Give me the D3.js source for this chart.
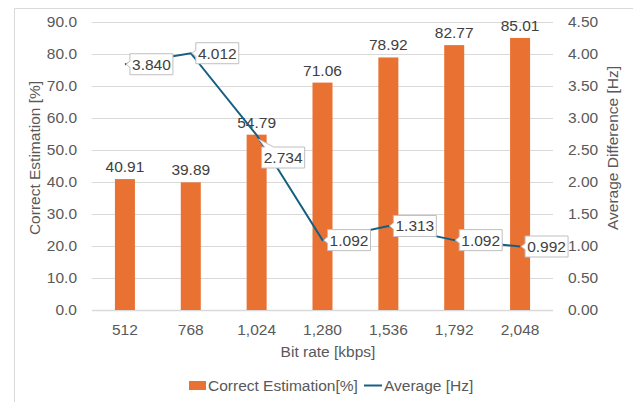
<!DOCTYPE html>
<html>
<head>
<meta charset="utf-8">
<script src="https://cdn.jsdelivr.net/npm/d3@7"></script>
<style>
  html, body { margin: 0; padding: 0; background: #fff; }
  svg { display: block; font-family: "Liberation Sans", Arial, Helvetica, sans-serif; }
</style>
</head>
<body>
<svg id="chart" width="633" height="402"></svg>
<script>
// Bit rates on the x axis
const bitRates = ["512", "768", "1,024", "1,280", "1,536", "1,792", "2,048"];
// Correct estimation rate per bit rate (left axis, bars)
const correctEstimation = [40.91, 39.89, 54.79, 71.06, 78.92, 82.77, 85.01];
// Average frequency difference per bit rate (right axis, line)
const averageDiff = [3.840, 4.012, 2.734, 1.092, 1.313, 1.092, 0.992];
// Tick values for both axes
const leftTicks = [0, 10, 20, 30, 40, 50, 60, 70, 80, 90];
const rightTicks = [0, 0.5, 1, 1.5, 2, 2.5, 3, 3.5, 4, 4.5];
// Where each line label sits relative to its point
const labelPlacement = ["right", "right", "below", "right", "right", "right", "right"];

const svg = d3.select("#chart");
const W = 633, H = 402;
const plot = { left: 92, right: 553, top: 22, bottom: 310 };

const barColor = "#E97132";
const lineColor = "#156082";
const textColor = "#595959";
const gridColor = "#D9D9D9";
const fontSize = 15.5;

// Chart frame
svg.append("path")
  .attr("d", `M14.5,${H} V8.5 H${W}`)
  .attr("fill", "none")
  .attr("stroke", "#D9D9D9")
  .attr("stroke-width", 1);

const x = d3.scaleBand().domain(bitRates).range([plot.left, plot.right]);
const yL = d3.scaleLinear().domain([0, 90]).range([plot.bottom, plot.top]);
const yR = d3.scaleLinear().domain([0, 4.5]).range([plot.bottom, plot.top]);

// Gridlines
svg.append("g").selectAll("line").data(leftTicks).join("line")
  .attr("x1", plot.left).attr("x2", plot.right)
  .attr("y1", d => Math.round(yL(d)) + 0.5).attr("y2", d => Math.round(yL(d)) + 0.5)
  .attr("stroke", gridColor).attr("stroke-width", d => d === 0 ? 1.5 : 1);

// Left axis
const leftAxis = svg.append("g")
  .attr("transform", `translate(${plot.left - 15},0)`)
  .call(d3.axisLeft(yL).tickValues(leftTicks).tickFormat(d3.format(".1f")).tickSize(0).tickPadding(0));
leftAxis.select(".domain").remove();
leftAxis.selectAll("text").attr("font-size", fontSize).attr("fill", textColor).attr("font-family", null);

// Right axis
const rightAxis = svg.append("g")
  .attr("transform", `translate(${plot.right + 15},0)`)
  .call(d3.axisRight(yR).tickValues(rightTicks).tickFormat(d3.format(".2f")).tickSize(0).tickPadding(0));
rightAxis.select(".domain").remove();
rightAxis.selectAll("text").attr("font-size", fontSize).attr("fill", textColor).attr("font-family", null);

// Bottom axis
const bottomAxis = svg.append("g")
  .attr("transform", `translate(0,${plot.bottom})`)
  .call(d3.axisBottom(x).tickSize(0).tickPadding(14));
bottomAxis.select(".domain").remove();
bottomAxis.selectAll("text").attr("font-size", fontSize).attr("fill", textColor).attr("font-family", null);

// Bars
const barW = 20;
svg.append("g").selectAll("rect").data(correctEstimation).join("rect")
  .attr("x", (d, i) => x(bitRates[i]) + x.bandwidth() / 2 - barW / 2)
  .attr("y", d => yL(d))
  .attr("width", barW)
  .attr("height", d => yL(0) - yL(d))
  .attr("fill", barColor);

// Bar value labels
svg.append("g").selectAll("text").data(correctEstimation).join("text")
  .attr("x", (d, i) => x(bitRates[i]) + x.bandwidth() / 2)
  .attr("y", d => yL(d) - 7)
  .attr("text-anchor", "middle")
  .attr("font-size", fontSize)
  .attr("fill", "#404040")
  .text(d => d3.format(".2f")(d));

// Line
const pts = averageDiff.map((d, i) => [x(bitRates[i]) + x.bandwidth() / 2, yR(d)]);
svg.append("path")
  .attr("d", d3.line()(pts))
  .attr("fill", "none")
  .attr("stroke", lineColor)
  .attr("stroke-width", 2);

// Line value labels in callout boxes
const boxW = 43, boxH = 21;
const labels = svg.append("g");
averageDiff.forEach((d, i) => {
  const [px, py] = pts[i];
  let bx, by, path;
  if (labelPlacement[i] === "below") {
    bx = px + 5; by = py + 12;
    path = `M${bx},${by} L${bx + 3},${by} L${px + 2},${py + 4} L${bx + 12},${by} H${bx + boxW} V${by + boxH} H${bx} Z`;
  } else {
    bx = px + 5; by = py - boxH / 2;
    const cy = py;
    path = `M${bx},${by} H${bx + boxW} V${by + boxH} H${bx} V${cy + 3} L${px + 1},${py} L${bx},${cy - 3} Z`;
  }
  labels.append("path")
    .attr("d", path)
    .attr("fill", "#fff")
    .attr("stroke", "#BFBFBF")
    .attr("stroke-width", 1);
  labels.append("text")
    .attr("x", bx + boxW / 2)
    .attr("y", by + boxH / 2 + 5.5)
    .attr("text-anchor", "middle")
    .attr("font-size", fontSize)
    .attr("fill", "#404040")
    .text(d3.format(".3f")(d));
});

// Axis titles
svg.append("text")
  .attr("transform", `translate(40,${158}) rotate(-90)`)
  .attr("text-anchor", "middle")
  .attr("font-size", fontSize)
  .attr("fill", textColor)
  .text("Correct Estimation [%]");

svg.append("text")
  .attr("transform", `translate(618,${148}) rotate(-90)`)
  .attr("text-anchor", "middle")
  .attr("font-size", fontSize)
  .attr("fill", textColor)
  .text("Average Difference [Hz]");

svg.append("text")
  .attr("x", 328)
  .attr("y", 357)
  .attr("text-anchor", "middle")
  .attr("font-size", fontSize)
  .attr("fill", textColor)
  .text("Bit rate [kbps]");

// Legend
const legend = svg.append("g");
legend.append("rect")
  .attr("x", 189).attr("y", 381).attr("width", 17).attr("height", 9)
  .attr("fill", barColor);
legend.append("text")
  .attr("x", 208).attr("y", 391)
  .attr("font-size", fontSize).attr("fill", textColor)
  .text("Correct Estimation[%]");
legend.append("line")
  .attr("x1", 364).attr("x2", 382).attr("y1", 385.5).attr("y2", 385.5)
  .attr("stroke", lineColor).attr("stroke-width", 2);
legend.append("text")
  .attr("x", 384).attr("y", 391)
  .attr("font-size", fontSize).attr("fill", textColor)
  .text("Average [Hz]");
</script>
</body>
</html>
